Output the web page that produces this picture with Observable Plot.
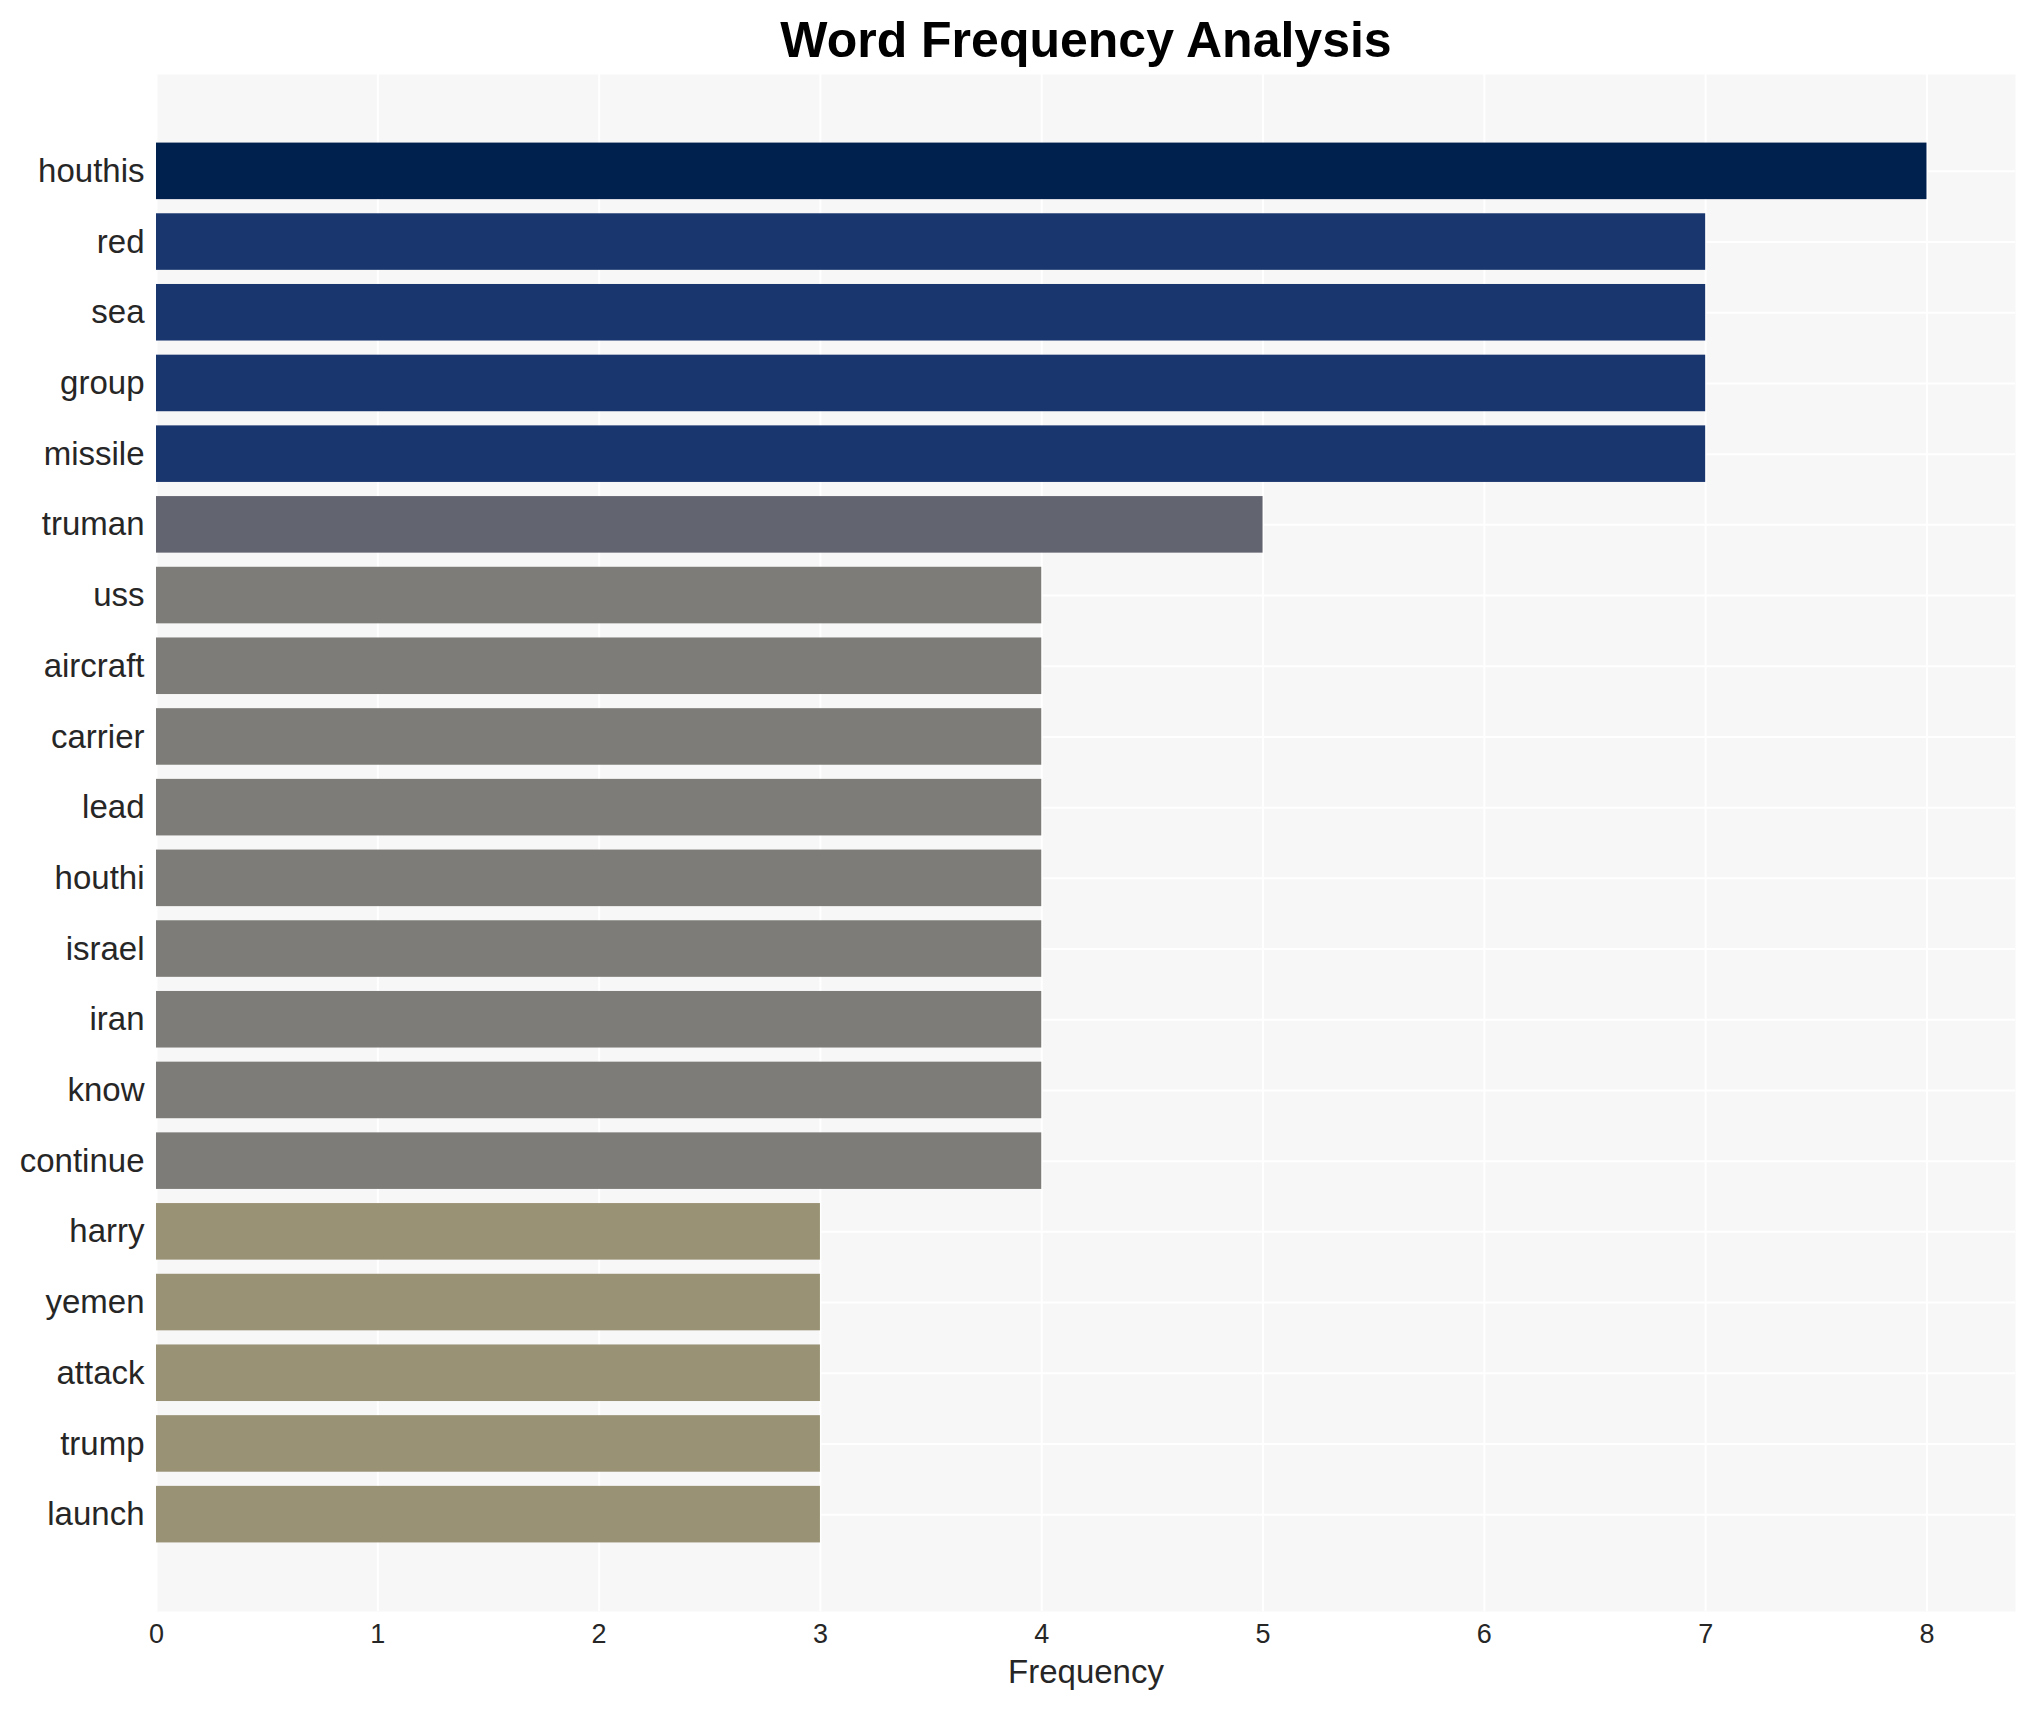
<!DOCTYPE html>
<html>
<head>
<meta charset="utf-8">
<script src="https://cdn.jsdelivr.net/npm/d3@7"></script>
<script src="https://cdn.jsdelivr.net/npm/@observablehq/plot@0.6"></script>
<style>
  html, body { margin: 0; padding: 0; background: #ffffff; }
  #wrap { width: 2035px; height: 1710px; font-family: "Liberation Sans", Arial, sans-serif; }
  #title { height: 74px; line-height: 80px; text-align: left; font-weight: bold; font-size: 50px; color: #000; position: relative; }
  #title span { position: absolute; left: 1086px; transform: translateX(-50%); white-space: nowrap; }
</style>
</head>
<body>
<div id="wrap">
  <div id="title"><span>Word Frequency Analysis</span></div>
  <div id="chart"></div>
</div>
<script>
const words = ["houthis", "red", "sea", "group", "missile", "truman", "uss", "aircraft", "carrier", "lead",
               "houthi", "israel", "iran", "know", "continue", "harry", "yemen", "attack", "trump", "launch"];
const counts = [8, 7, 7, 7, 7, 5, 4, 4, 4, 4, 4, 4, 4, 4, 4, 3, 3, 3, 3, 3];
const xTicks = [0, 1, 2, 3, 4, 5, 6, 7, 8];
const xLabel = "Frequency";
const colorLevels = [8, 7, 5, 4, 3];
const colorPalette = ["#00214e", "#1a366e", "#62646f", "#7d7c78", "#999275"];

const data = words.map((w, i) => ({word: w, count: counts[i]}));

const chart = Plot.plot({
  width: 2035,
  height: 1636,
  marginTop: 0,
  marginBottom: 99,
  marginLeft: 156,
  marginRight: 20,
  style: {fontFamily: "Liberation Sans, Arial, sans-serif", color: "#262626", background: "#ffffff"},
  x: {domain: [0, 8.4], axis: null},
  y: {type: "band", domain: words, paddingInner: 0.2, paddingOuter: 0.97, round: false, axis: null},
  color: {type: "ordinal", domain: colorLevels, range: colorPalette},
  marks: [
    Plot.frame({fill: "#f7f7f7", stroke: null}),
    Plot.gridX(xTicks, {stroke: "#ffffff", strokeOpacity: 1, strokeWidth: 2}),
    Plot.gridY(words, {stroke: "#ffffff", strokeOpacity: 1, strokeWidth: 2}),
    Plot.barX(data, {x: "count", y: "word", fill: "count"}),
    Plot.axisX(xTicks, {tickSize: 0, tickPadding: 12, fontSize: 27, tickFormat: d3.format("d"), label: null, fill: "#262626"}),
    Plot.axisY(words, {tickSize: 0, tickPadding: 12, fontSize: 33, label: null, fill: "#262626"}),
    Plot.text([xLabel], {frameAnchor: "bottom", dy: 61, fontSize: 33, fill: "#262626", lineAnchor: "middle"})
  ]
});
document.getElementById("chart").appendChild(chart);
</script>
</body>
</html>
